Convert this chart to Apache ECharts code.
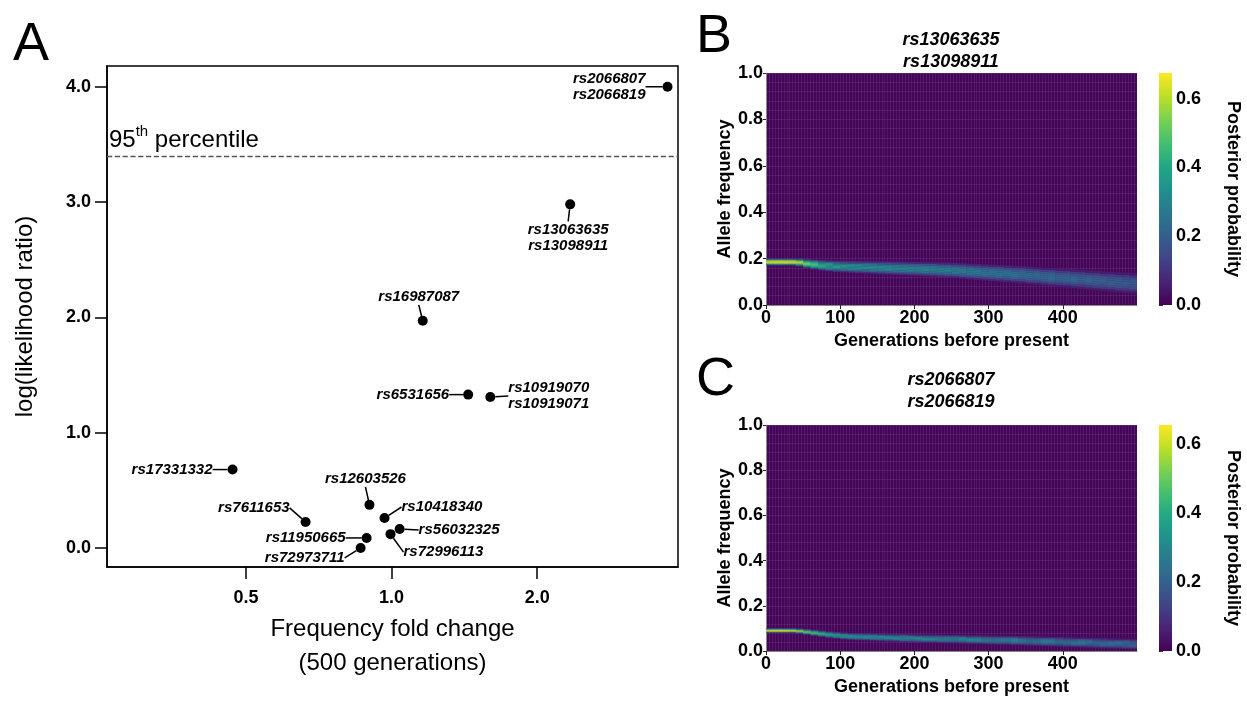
<!DOCTYPE html>
<html>
<head>
<meta charset="utf-8">
<title>Selection scan: likelihood ratio and allele frequency trajectories</title>
<script src="https://cdn.jsdelivr.net/npm/echarts@6/dist/echarts.min.js"></script>
<style>
  html, body { margin: 0; padding: 0; background: #fff; }
  #main { width: 1247px; height: 702px; }
</style>
</head>
<body>
<div id="main"></div>
<script>
// ---- panel A: fold change (500 generations) vs log likelihood ratio ----
const snpNames = [
  'rs2066807\nrs2066819', 'rs13063635\nrs13098911', 'rs16987087', 'rs6531656',
  'rs10919070\nrs10919071', 'rs17331332', 'rs12603526', 'rs10418340',
  'rs7611653', 'rs11950665', 'rs72973711', 'rs72996113', 'rs56032325'
];
const foldChange = [3.72, 2.34, 1.16, 1.44, 1.60, 0.469, 0.90, 0.967, 0.664, 0.888, 0.863, 0.995, 1.039];
const logLR      = [4.00, 2.98, 1.97, 1.33, 1.31, 0.68, 0.374, 0.26, 0.226, 0.087, 0.0, 0.12, 0.165];
const threshold95 = 3.4;
const xTicksA = [0.5, 1, 2];
const yTicksA = [0, 1, 2, 3, 4];

// ---- panels B / C: posterior band, one column per 10 generations ----
const genStep = 10;
const generations = [
  0, 10, 20, 30, 40, 50, 60, 70, 80, 90, 100, 110, 120, 130, 140, 150, 160, 170, 180, 190,
  200, 210, 220, 230, 240, 250, 260, 270, 280, 290, 300, 310, 320, 330, 340, 350, 360, 370, 380, 390,
  400, 410, 420, 430, 440, 450, 460, 470, 480, 490
];
const centerB = [
  0.186, 0.186, 0.186, 0.186, 0.184, 0.179, 0.175, 0.172, 0.169, 0.167,
  0.166, 0.165, 0.164, 0.163, 0.162, 0.161, 0.160, 0.159, 0.158, 0.157,
  0.156, 0.155, 0.154, 0.152, 0.151, 0.149, 0.147, 0.145, 0.143, 0.141,
  0.139, 0.137, 0.135, 0.133, 0.131, 0.128, 0.126, 0.123, 0.121, 0.118,
  0.116, 0.113, 0.111, 0.108, 0.106, 0.103, 0.101, 0.098, 0.096, 0.094
];
const widthB = [
  0.028, 0.028, 0.028, 0.028, 0.032, 0.036, 0.040, 0.043, 0.045, 0.047,
  0.049, 0.050, 0.051, 0.052, 0.053, 0.054, 0.055, 0.056, 0.057, 0.058,
  0.059, 0.060, 0.061, 0.062, 0.063, 0.064, 0.065, 0.066, 0.067, 0.068,
  0.069, 0.070, 0.071, 0.072, 0.073, 0.074, 0.075, 0.076, 0.077, 0.078,
  0.079, 0.080, 0.081, 0.082, 0.083, 0.084, 0.085, 0.086, 0.087, 0.088
];
const peakB = [
  0.66, 0.67, 0.67, 0.66, 0.60, 0.52, 0.47, 0.43, 0.40, 0.37,
  0.35, 0.34, 0.34, 0.33, 0.33, 0.32, 0.32, 0.31, 0.31, 0.30,
  0.30, 0.30, 0.29, 0.29, 0.29, 0.28, 0.28, 0.27, 0.27, 0.26,
  0.26, 0.26, 0.25, 0.25, 0.24, 0.24, 0.23, 0.23, 0.23, 0.22,
  0.22, 0.22, 0.21, 0.21, 0.21, 0.20, 0.20, 0.20, 0.19, 0.19
];
const centerC = [
  0.091, 0.091, 0.091, 0.091, 0.089, 0.085, 0.081, 0.077, 0.073, 0.070,
  0.067, 0.065, 0.064, 0.063, 0.062, 0.061, 0.060, 0.059, 0.058, 0.057,
  0.056, 0.055, 0.055, 0.054, 0.053, 0.053, 0.052, 0.051, 0.051, 0.050,
  0.049, 0.048, 0.048, 0.047, 0.046, 0.045, 0.044, 0.043, 0.042, 0.041,
  0.040, 0.039, 0.038, 0.037, 0.036, 0.035, 0.034, 0.033, 0.032, 0.031
];
const widthC = [
  0.018, 0.018, 0.018, 0.018, 0.020, 0.023, 0.025, 0.026, 0.027, 0.028,
  0.029, 0.029, 0.030, 0.030, 0.031, 0.031, 0.032, 0.032, 0.033, 0.033,
  0.034, 0.034, 0.034, 0.035, 0.035, 0.036, 0.036, 0.036, 0.037, 0.037,
  0.038, 0.038, 0.038, 0.039, 0.039, 0.040, 0.040, 0.040, 0.041, 0.041,
  0.042, 0.042, 0.042, 0.043, 0.043, 0.044, 0.044, 0.044, 0.045, 0.045
];
const peakC = [
  0.64, 0.65, 0.65, 0.62, 0.56, 0.50, 0.46, 0.43, 0.40, 0.38,
  0.37, 0.36, 0.35, 0.35, 0.34, 0.34, 0.33, 0.33, 0.33, 0.32,
  0.32, 0.32, 0.31, 0.31, 0.31, 0.30, 0.30, 0.30, 0.29, 0.29,
  0.29, 0.28, 0.28, 0.28, 0.27, 0.27, 0.27, 0.26, 0.26, 0.26,
  0.25, 0.25, 0.25, 0.24, 0.24, 0.24, 0.23, 0.23, 0.23, 0.22
];
// relative posterior across the band, centre row outwards
const bandProfile = [1, 0.95, 0.8, 0.55, 0.25];
const colorbarMaxB = 0.675, colorbarMaxC = 0.655;

const FONT = 'Liberation Sans, Arial, Helvetica, sans-serif';
const viridis = ['#440154', '#482475', '#414487', '#355f8d', '#2a788e', '#21918c',
                 '#22a884', '#44bf70', '#7ad151', '#bddf26', '#fde725'];

// label placement per SNP: [dx, dy, align, verticalAlign] from the dot centre
const labelPlace = {
  'rs2066807\nrs2066819':   [-22, 0, 'right', 'middle'],
  'rs13063635\nrs13098911': [-2, 17, 'center', 'top'],
  'rs16987087':             [-4, -16, 'center', 'bottom'],
  'rs6531656':              [-19, 0, 'right', 'middle'],
  'rs10919070\nrs10919071': [18, -1, 'left', 'middle'],
  'rs17331332':             [-20, 0, 'right', 'middle'],
  'rs12603526':             [-4, -18, 'center', 'bottom'],
  'rs10418340':             [17, -11, 'left', 'middle'],
  'rs7611653':              [-16, -14, 'right', 'middle'],
  'rs11950665':             [-21, 0, 'right', 'middle'],
  'rs72973711':             [-16, 10, 'right', 'middle'],
  'rs72996113':             [13, 18, 'left', 'middle'],
  'rs56032325':             [19, 1, 'left', 'middle']
};

const scatterData = snpNames.map((name, i) => {
  const p = labelPlace[name];
  return {
    name: name,
    value: [foldChange[i], logLR[i]],
    label: { position: ['50%', '50%'], offset: [p[0], p[1]], align: p[2], verticalAlign: p[3] }
  };
});

function bandCells(center, width, peak) {
  const cells = [];
  const n = bandProfile.length;
  generations.forEach((g, i) => {
    const h = width[i] / (2 * n - 1);
    for (let k = -(n - 1); k <= n - 1; k++) {
      const lo = center[i] + (k - 0.5) * h;
      cells.push([g, g + genStep, lo, lo + h, peak[i] * bandProfile[Math.abs(k)]]);
    }
  });
  return cells;
}

function renderCell(params, api) {
  const p0 = api.coord([api.value(0), api.value(3)]);
  const p1 = api.coord([api.value(1), api.value(2)]);
  return {
    type: 'rect',
    shape: { x: p0[0], y: p0[1], width: p1[0] - p0[0] + 0.3, height: p1[1] - p0[1] + 0.2 },
    style: { fill: api.visual('color') }
  };
}

function renderColorbar(params, api) {
  const p0 = api.coord([0, api.value(1)]);
  const p1 = api.coord([1, api.value(0)]);
  return {
    type: 'rect',
    shape: { x: p0[0], y: p0[1], width: p1[0] - p0[0], height: p1[1] - p0[1] },
    style: {
      fill: new echarts.graphic.LinearGradient(0, 1, 0, 0,
        viridis.map((c, i) => ({ offset: i / (viridis.length - 1), color: c })))
    }
  };
}

const boldTick = { color: '#000', fontFamily: FONT, fontWeight: 'bold', fontSize: 18 };
const seam = { show: true, lineStyle: { color: 'rgba(255,255,255,0.07)', width: 1 } };

function heatXAxis(gridIndex) {
  return {
    gridIndex, type: 'value', min: 0, max: 500, interval: 100,
    axisLine: { show: true, lineStyle: { color: '#888', width: 1 } },
    axisTick: { show: true, length: 4, lineStyle: { color: '#222' } },
    axisLabel: Object.assign({ margin: 4, showMaxLabel: false }, boldTick),
    splitLine: seam,
    minorTick: { show: false, splitNumber: 25 },
    minorSplitLine: seam,
    name: 'Generations before present', nameLocation: 'middle', nameGap: 27,
    nameTextStyle: { color: '#000', fontFamily: FONT, fontWeight: 'bold', fontSize: 18 }
  };
}
function heatYAxis(gridIndex) {
  return {
    gridIndex, type: 'value', min: 0, max: 1, interval: 0.2,
    axisLine: { show: true, lineStyle: { color: '#888', width: 1 } },
    axisTick: { show: true, length: 3, lineStyle: { color: '#222' } },
    axisLabel: Object.assign({ margin: 3, formatter: v => v.toFixed(1) }, boldTick),
    splitLine: seam,
    minorTick: { show: false, splitNumber: 5 },
    minorSplitLine: seam,
    name: 'Allele frequency', nameLocation: 'middle', nameGap: 32,
    nameTextStyle: { color: '#000', fontFamily: FONT, fontWeight: 'bold', fontSize: 18 }
  };
}
function barXAxis(gridIndex) {
  return { gridIndex, type: 'value', min: 0, max: 1, show: false };
}
function barYAxis(gridIndex, max) {
  return {
    gridIndex, type: 'value', position: 'right', min: 0, max: max, interval: 0.2,
    axisLine: { show: false },
    axisTick: { show: true, length: 4, lineStyle: { color: '#333' } },
    minorTick: { show: true, splitNumber: 2, length: 2, lineStyle: { color: '#333' } },
    axisLabel: Object.assign({ margin: 4, showMaxLabel: false, formatter: v => v.toFixed(1) }, boldTick),
    splitLine: { show: false },
    name: 'Posterior probability', nameLocation: 'middle', nameRotate: -90, nameGap: 52,
    nameTextStyle: { color: '#000', fontFamily: FONT, fontWeight: 'bold', fontSize: 18 }
  };
}

function textEl(text, x, y, style) {
  return { type: 'text', x, y, style: Object.assign({ text, fill: '#000', fontFamily: FONT }, style) };
}

const option = {
  animation: false,
  backgroundColor: '#fff',
  grid: [
    { left: 107, top: 66, width: 571, height: 501, show: true, borderColor: '#000', borderWidth: 1.5 },
    { left: 766, top: 73, width: 371, height: 232, show: true, backgroundColor: '#45065a', borderWidth: 0 },
    { left: 766, top: 425, width: 371, height: 226, show: true, backgroundColor: '#45065a', borderWidth: 0 },
    { left: 1159, top: 73, width: 13, height: 232 },
    { left: 1159, top: 425, width: 13, height: 226 }
  ],
  xAxis: [
    {
      gridIndex: 0, type: 'log', logBase: 2, min: 0.258, max: 3.91,
      axisLine: { show: true, onZero: false, lineStyle: { color: '#000', width: 1.5 } },
      axisTick: { show: true, length: 12, customValues: xTicksA, lineStyle: { color: '#000', width: 1.5 } },
      axisLabel: Object.assign({ margin: 22, customValues: xTicksA, formatter: v => Number(v).toFixed(1) }, boldTick),
      splitLine: { show: false },
      minorTick: { show: false },
      name: 'Frequency fold change\n(500 generations)', nameLocation: 'middle', nameGap: 44,
      nameTextStyle: { color: '#000', fontFamily: FONT, fontSize: 24, lineHeight: 34 }
    },
    heatXAxis(1), heatXAxis(2), barXAxis(3), barXAxis(4)
  ],
  yAxis: [
    {
      gridIndex: 0, type: 'value', min: -0.165, max: 4.18,
      axisLine: { show: true, onZero: false, lineStyle: { color: '#000', width: 1.5 } },
      axisTick: { show: true, length: 12, customValues: yTicksA, lineStyle: { color: '#000', width: 1.5 } },
      axisLabel: Object.assign({ margin: 16, customValues: yTicksA, formatter: v => Number(v).toFixed(1) }, boldTick),
      splitLine: { show: false },
      name: 'log(likelihood ratio)', nameLocation: 'middle', nameGap: 70,
      nameTextStyle: { color: '#000', fontFamily: FONT, fontSize: 24 }
    },
    heatYAxis(1), heatYAxis(2), barYAxis(3, colorbarMaxB), barYAxis(4, colorbarMaxC)
  ],
  visualMap: [
    { type: 'continuous', show: false, seriesIndex: 1, dimension: 4, min: 0, max: colorbarMaxB, inRange: { color: viridis } },
    { type: 'continuous', show: false, seriesIndex: 2, dimension: 4, min: 0, max: colorbarMaxC, inRange: { color: viridis } }
  ],
  series: [
    {
      type: 'scatter', xAxisIndex: 0, yAxisIndex: 0,
      symbolSize: 10, itemStyle: { color: '#000', opacity: 1 },
      data: scatterData,
      label: {
        show: true, formatter: p => p.name, color: '#000', fontFamily: FONT,
        fontStyle: 'italic', fontWeight: 'bold', fontSize: 15, lineHeight: 16
      },
      labelLine: { show: true, lineStyle: { color: '#000', width: 1.5 } },
      markLine: {
        silent: true, symbol: 'none',
        lineStyle: { type: 'dashed', color: '#555', width: 1.3 },
        data: [{ yAxis: threshold95 }],
        label: {
          show: true, position: 'insideStartTop', distance: [2, 4],
          formatter: '{n|95}{s|th}{n| percentile}',
          rich: {
            n: { fontFamily: FONT, fontSize: 24, color: '#000', verticalAlign: 'bottom', lineHeight: 28 },
            s: { fontFamily: FONT, fontSize: 15, color: '#000', verticalAlign: 'top', lineHeight: 28 }
          }
        }
      }
    },
    {
      type: 'custom', xAxisIndex: 1, yAxisIndex: 1, clip: true,
      renderItem: renderCell, data: bandCells(centerB, widthB, peakB)
    },
    {
      type: 'custom', xAxisIndex: 2, yAxisIndex: 2, clip: true,
      renderItem: renderCell, data: bandCells(centerC, widthC, peakC)
    },
    {
      type: 'custom', xAxisIndex: 3, yAxisIndex: 3, silent: true,
      renderItem: renderColorbar, data: [[0, colorbarMaxB]]
    },
    {
      type: 'custom', xAxisIndex: 4, yAxisIndex: 4, silent: true,
      renderItem: renderColorbar, data: [[0, colorbarMaxC]]
    }
  ],
  graphic: [
    textEl('A', 13, 18, { fontSize: 54 }),
    textEl('B', 696, 10, { fontSize: 54 }),
    textEl('C', 696, 353, { fontSize: 54 }),
    textEl('rs13063635\nrs13098911', 951, 51, { align: 'center', verticalAlign: 'middle', fontSize: 18, fontStyle: 'italic', fontWeight: 'bold', lineHeight: 22 }),
    textEl('rs2066807\nrs2066819', 951, 391, { align: 'center', verticalAlign: 'middle', fontSize: 18, fontStyle: 'italic', fontWeight: 'bold', lineHeight: 22 })
  ]
};

const chart = echarts.init(document.getElementById('main'));
chart.setOption(option);
</script>
</body>
</html>
